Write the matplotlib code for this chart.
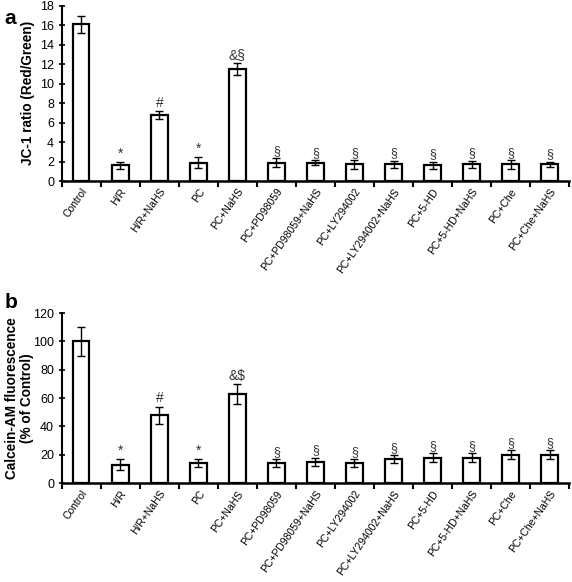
import numpy as np
import matplotlib.pyplot as plt

plt.rcParams['font.family'] = ['Liberation Sans', 'DejaVu Sans']

groups = ["Control", "H/R", "H/R+NaHS", "PC", "PC+NaHS", "PC+PD98059",
          "PC+PD98059+NaHS", "PC+LY294002", "PC+LY294002+NaHS", "PC+5-HD",
          "PC+5-HD+NaHS", "PC+Che", "PC+Che+NaHS"]

jc1 = [16.1, 1.6, 6.8, 1.9, 11.5, 1.9, 1.9, 1.7, 1.7, 1.6, 1.7, 1.7, 1.7]
jc1_err = [0.9, 0.4, 0.4, 0.6, 0.6, 0.5, 0.3, 0.5, 0.4, 0.4, 0.4, 0.5, 0.3]
jc1_marks = ["", "*", "#", "*", "&§", "§", "§", "§", "§", "§", "§", "§", "§"]

calcein = [100, 13, 48, 14, 63, 14, 15, 14, 17, 18, 18, 20, 20]
calcein_err = [10, 4, 6, 3, 7, 3, 3, 3, 3, 3, 3, 3, 3]
calcein_marks = ["", "*", "#", "*", "&$", "§", "§", "§", "§", "§", "§", "§", "§"]

fig = plt.figure(figsize=(5.72, 5.82), dpi=100)
ax1 = fig.add_axes([0.108, 0.689, 0.887, 0.301])
ax2 = fig.add_axes([0.108, 0.170, 0.887, 0.292])


def panel(ax, vals, errs, marks, ymax, ystep, ylabel, off):
    x = np.arange(len(groups))
    ax.bar(x, vals, width=0.42, color="white", edgecolor="black", linewidth=1.6)
    ax.errorbar(x, vals, yerr=errs, fmt="none", ecolor="black", elinewidth=1.0,
                capsize=3, capthick=1.0)
    for xi, v, e, m in zip(x, vals, errs, marks):
        if m:
            fs = 9 if m == "§" else 10
            ax.text(xi, v + e + off, m, ha="center", va="bottom", fontsize=fs,
                    color="#333333")
    ax.set_xlim(-0.5, len(groups) - 0.5)
    ax.set_ylim(0, ymax)
    ax.set_yticks(np.arange(0, ymax + 1, ystep))
    ax.set_xticks(x)
    ax.set_xticklabels(groups, rotation=55, ha="right", rotation_mode="anchor",
                       fontsize=7.5)
    ax.tick_params(axis="x", length=0, pad=4)
    ax.set_xticks(np.arange(-0.5, len(groups)), minor=True)
    ax.tick_params(axis="x", which="minor", length=4, width=1.5, direction="out")
    ax.tick_params(axis="y", length=4, width=1.2, labelsize=9, direction="inout")
    for s in ["top", "right"]:
        ax.spines[s].set_visible(False)
    ax.spines["left"].set_linewidth(1.5)
    ax.spines["bottom"].set_linewidth(1.8)
    ax.set_ylabel(ylabel, fontsize=9.8, fontweight="bold", linespacing=1.1)


panel(ax1, jc1, jc1_err, jc1_marks, 18, 2, "JC-1 ratio (Red/Green)", 0.1)
panel(ax2, calcein, calcein_err, calcein_marks, 120, 20,
      "Calcein-AM fluorescence\n(% of Control)", 0.8)
ax1.yaxis.set_label_coords(-0.052, 0.5)
ax2.yaxis.set_label_coords(-0.055, 0.5)

fig.text(0.008, 0.985, "a", fontsize=15, fontweight="bold", va="top")
fig.text(0.008, 0.497, "b", fontsize=15, fontweight="bold", va="top")

fig.savefig("out.png", dpi=100)
